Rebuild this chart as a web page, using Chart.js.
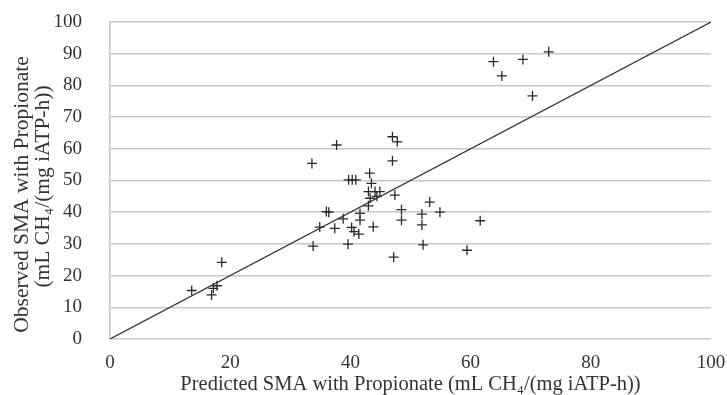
<!DOCTYPE html>
<html>
<head>
<meta charset="utf-8">
<script src="https://cdn.jsdelivr.net/npm/chart.js@4/dist/chart.umd.min.js"></script>
<style>
html,body{margin:0;padding:0;background:#fff;}
#wrap{width:727px;height:395px;position:relative;}
</style>
</head>
<body>
<div id="wrap"><canvas id="c" width="727" height="395"></canvas></div>
<script>
// Predicted SMA (x) and Observed SMA (y), mL CH4/(mg iATP-h)
const predicted = [13.6,16.9,17.2,17.8,18.6,33.6,37.7,47.0,47.8,47.0,39.7,40.3,40.9,43.2,43.5,43.0,44.1,44.9,43.3,44.4,47.4,43.0,53.2,54.9,48.5,48.5,51.9,51.9,61.6,59.4,52.1,47.2,39.6,33.8,36.0,36.4,34.9,37.4,38.8,40.2,41.6,41.6,41.4,43.8,40.6,63.8,65.2,68.7,73.0,70.3];
const observed  = [15.3,13.9,16.0,16.8,24.2,55.4,61.2,63.8,62.2,56.2,50.2,50.2,50.2,52.3,49.1,46.5,46.5,46.5,44.4,45.0,45.4,42.0,43.2,40.0,40.8,37.5,39.4,36.0,37.3,28.0,29.7,25.8,29.9,29.3,40.2,40.0,35.3,34.9,37.9,35.2,39.6,37.5,33.1,35.4,33.9,87.5,83.0,88.2,90.6,76.7];
const lineX = [0,100];
const lineY = [0,100];
const xTitle = 'Predicted SMA with Propionate (mL CH\u2084/(mg iATP-h))';
const yTitle = ['Observed SMA with Propionate','(mL CH\u2084/(mg iATP-h))'];

const pts = predicted.map((x,i)=>({x:x,y:observed[i]}));
const line = lineX.map((x,i)=>({x:x,y:lineY[i]}));
const FONT = "'Liberation Serif','Times New Roman',serif";

// Draws the two-line vertical axis title (real canvas text), positioned as in the reference
const yTitlePlugin = {
  id:'yTitle',
  afterDraw(chart){
    const ctx = chart.ctx, a = chart.chartArea;
    const cy = (a.top + a.bottom)/2;
    ctx.save();
    ctx.fillStyle = '#333';
    ctx.font = "21.5px " + FONT;
    ctx.textAlign = 'center';
    ctx.textBaseline = 'middle';
    [[22,14],[43,6]].forEach((p,i)=>{
      ctx.save();
      ctx.translate(p[0], cy + p[1]);
      ctx.rotate(-Math.PI/2);
      ctx.fillText(yTitle[i], 0, 0);
      ctx.restore();
    });
    ctx.restore();
  }
};

new Chart(document.getElementById('c'),{
  type:'scatter',
  data:{datasets:[
    {data:pts,pointStyle:'cross',pointRadius:5,pointBorderWidth:1.3,borderColor:'#2a2a2a',backgroundColor:'#2a2a2a',showLine:false,order:1},
    {type:'line',data:line,borderColor:'#333',borderWidth:1.2,pointRadius:0,fill:false,order:2}
  ]},
  plugins:[yTitlePlugin],
  options:{
    responsive:false,animation:false,
    layout:{padding:{left:0,right:16,top:22,bottom:0}},
    plugins:{legend:{display:false},tooltip:{enabled:false}},
    scales:{
      x:{type:'linear',min:0,max:100,
        ticks:{stepSize:20,color:'#333',font:{family:FONT,size:19},padding:13},
        grid:{display:false,drawTicks:false},
        border:{display:false},
        title:{display:true,text:xTitle,color:'#333',font:{family:FONT,size:20.5,lineHeight:1.0},padding:{top:0,bottom:0}},
        afterFit:(s)=>{s.height=56; s.paddingLeft=0; s.paddingRight=0;}
      },
      y:{type:'linear',min:0,max:100,
        ticks:{stepSize:10,color:'#333',font:{family:FONT,size:19},padding:28},
        grid:{color:'#c8c8c8',lineWidth:1.6,drawTicks:false},
        border:{display:true,color:'#c8c8c8',width:1.6},
        title:{display:false},
        afterFit:(s)=>{s.width=110; s.paddingTop=0; s.paddingBottom=0;}
      }
    }
  }
});
</script>
</body>
</html>
